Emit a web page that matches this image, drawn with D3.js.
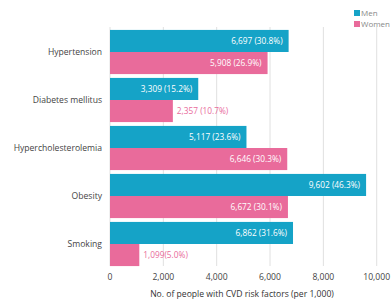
<!DOCTYPE html>
<html><head><meta charset="utf-8">
<script src="https://cdn.jsdelivr.net/npm/d3@7"></script>
<style>body{margin:0;background:#fff}</style>
</head><body>
<svg id="c" width="392" height="306"></svg>
<script>
const categories = ["Hypertension","Diabetes mellitus","Hypercholesterolemia","Obesity","Smoking"];
const men = [6697, 3309, 5117, 9602, 6862];
const women = [5908, 2357, 6646, 6672, 1099];
const menLabels = ["6,697 (30.8%)","3,309 (15.2%)","5,117 (23.6%)","9,602 (46.3%)","6,862 (31.6%)"];
const womenLabels = ["5,908 (26.9%)","2,357 (10.7%)","6,646 (30.3%)","6,672 (30.1%)","1,099(5.0%)"];
const xTicks = [0,2000,4000,6000,8000,10000];
const seriesNames = ["Men","Women"];
const colors = ["#15a3c7","#e96b9b"];

const svg = d3.select("#c");
const font = "'Open Sans', sans-serif";
const x = d3.scaleLinear().domain([0,10000]).range([110,376.7]);
const y = d3.scaleBand().domain(categories).range([28,268]).paddingInner(0.08).paddingOuter(0.04);
const bh = y.bandwidth()/2;

svg.append("g").selectAll("line").data(xTicks).join("line")
  .attr("x1",d=>x(d)).attr("x2",d=>x(d)).attr("y1",27).attr("y2",266)
  .attr("stroke","#e0e0e0").attr("stroke-width",1);

const series = [men, women];
const labels = [menLabels, womenLabels];
series.forEach((vals,si)=>{
  const g = svg.append("g");
  g.selectAll("rect").data(vals).join("rect")
    .attr("x",x(0)).attr("y",(d,i)=>y(categories[i])+si*bh)
    .attr("width",d=>x(d)-x(0)).attr("height",bh)
    .attr("fill",colors[si]);
  g.selectAll("text").data(vals).join("text")
    .each(function(d,i){
      const t = d3.select(this);
      const inside = (x(d)-x(0)) > 75;
      t.attr("y", y(categories[i])+si*bh+bh/2)
       .attr("dy","0.35em")
       .attr("font-family",font).attr("font-size",8.3)
       .text(labels[si][i]);
      if(inside){
        t.attr("x",x(d)-6).attr("text-anchor","end").attr("fill","#fff");
      } else {
        t.attr("x",x(d)+4).attr("text-anchor","start").attr("fill",colors[si]);
      }
    });
});

svg.append("g").selectAll("text").data(categories).join("text")
  .attr("x",102).attr("y",d=>y(d)+y.bandwidth()/2).attr("dy","0.35em")
  .attr("text-anchor","end").attr("font-family",font).attr("font-size",8.6)
  .attr("fill","#444").text(d=>d);

svg.append("g").selectAll("text").data(xTicks).join("text")
  .attr("x",d=>x(d)).attr("y",280).attr("text-anchor","middle")
  .attr("font-family",font).attr("font-size",8.6).attr("fill","#444")
  .text(d=>d3.format(",")(d));

svg.append("text").attr("x",242).attr("y",297).attr("text-anchor","middle")
  .attr("font-family",font).attr("font-size",8.6).attr("fill","#333")
  .text("No. of people with CVD risk factors (per 1,000)");

const lg = svg.append("g");
seriesNames.forEach((n,i)=>{
  lg.append("rect").attr("x",354).attr("y",10+i*11).attr("width",6).attr("height",6).attr("fill",colors[i]);
  lg.append("text").attr("x",361).attr("y",13+i*11).attr("dy","0.35em")
    .attr("font-family",font).attr("font-size",8).attr("fill","#888").text(n);
});
</script>
</body></html>
